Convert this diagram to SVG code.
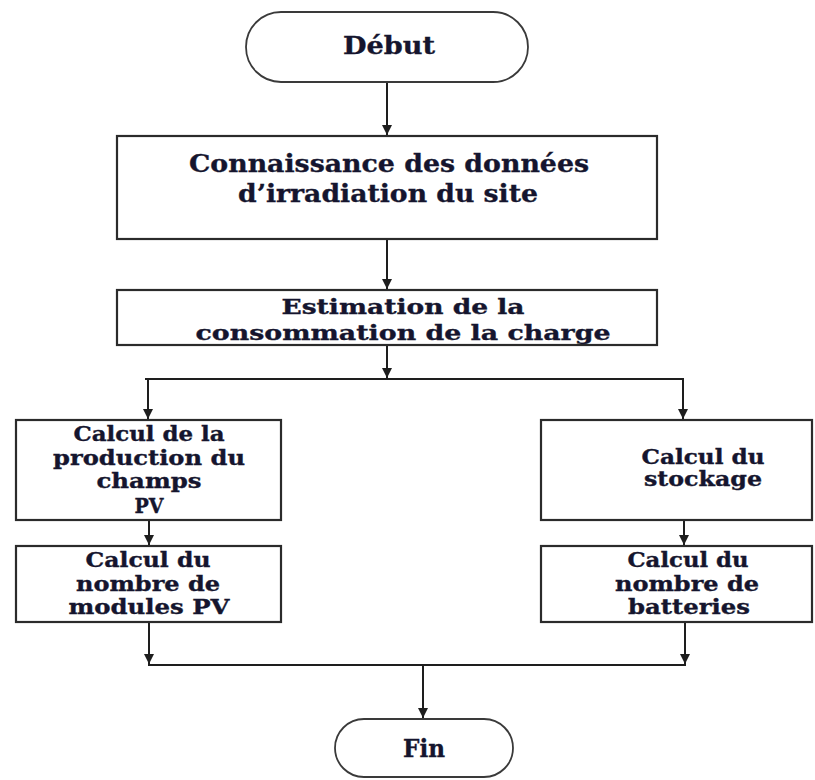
<svg xmlns="http://www.w3.org/2000/svg" width="815" height="780" viewBox="0 0 815 780">
  <style>
    .box { fill: #ffffff; stroke: #2b2b2b; stroke-width: 2.2; }
    .term { fill: #ffffff; stroke: #3a3a3a; stroke-width: 1.8; }
    .lbl { font-family: "DejaVu Serif", "Liberation Serif", serif; font-weight: bold; fill: #15152e; stroke: #15152e; stroke-width: 0.35; text-anchor: middle; }
    .big { font-size: 24px; }
    .tight { font-size: 21px; }
    .mid { font-size: 20px; }
    .wire { fill: none; stroke: #1e1e1e; stroke-width: 2; }
  </style>
  <defs>
    <marker id="arrow" markerUnits="userSpaceOnUse" markerWidth="12" markerHeight="12" refX="10" refY="5" orient="auto">
      <path d="M0,0 L10,5 L0,10 Z" fill="#1e1e1e"/>
    </marker>
  </defs>
  <rect width="815" height="780" fill="#ffffff"/>

  <g id="connectors">
    <line class="wire" x1="387" y1="82" x2="387" y2="135" marker-end="url(#arrow)"/>
    <line class="wire" x1="387" y1="239" x2="387" y2="289" marker-end="url(#arrow)"/>
    <line class="wire" x1="387" y1="345" x2="387" y2="378" marker-end="url(#arrow)"/>
    <line class="wire" x1="145" y1="379" x2="684" y2="379"/>
    <line class="wire" x1="148" y1="379" x2="148" y2="419" marker-end="url(#arrow)"/>
    <line class="wire" x1="683" y1="379" x2="683" y2="419" marker-end="url(#arrow)"/>
    <line class="wire" x1="149" y1="520" x2="149" y2="545" marker-end="url(#arrow)"/>
    <line class="wire" x1="684" y1="520" x2="684" y2="545" marker-end="url(#arrow)"/>
    <line class="wire" x1="149" y1="622" x2="149" y2="664" marker-end="url(#arrow)"/>
    <line class="wire" x1="685" y1="622" x2="685" y2="664" marker-end="url(#arrow)"/>
    <line class="wire" x1="148" y1="665" x2="686" y2="665"/>
    <line class="wire" x1="423" y1="665" x2="423" y2="718" marker-end="url(#arrow)"/>
  </g>

  <g id="debut">
    <rect class="term" x="246" y="12" width="282" height="70" rx="35" ry="35"/>
    <text class="lbl big" x="389" y="54" textLength="92" lengthAdjust="spacingAndGlyphs">Début</text>
  </g>

  <g id="irradiation">
    <rect class="box" x="117" y="136" width="540" height="103"/>
    <text class="lbl big" x="389" y="172" textLength="400" lengthAdjust="spacingAndGlyphs">Connaissance des données</text>
    <text class="lbl big" x="388" y="202" textLength="300" lengthAdjust="spacingAndGlyphs">d’irradiation du site</text>
  </g>

  <g id="consommation">
    <rect class="box" x="117" y="290" width="540" height="55"/>
    <text class="lbl tight" x="403" y="314" textLength="243" lengthAdjust="spacingAndGlyphs">Estimation de la</text>
    <text class="lbl tight" x="403" y="340" textLength="415" lengthAdjust="spacingAndGlyphs">consommation de la charge</text>
  </g>

  <g id="production">
    <rect class="box" x="16" y="420" width="265" height="100"/>
    <text class="lbl mid" x="149" y="441" textLength="151" lengthAdjust="spacingAndGlyphs">Calcul de la</text>
    <text class="lbl mid" x="149" y="465" textLength="192" lengthAdjust="spacingAndGlyphs">production du</text>
    <text class="lbl mid" x="149" y="488" textLength="105" lengthAdjust="spacingAndGlyphs">champs</text>
    <text class="lbl mid" x="149" y="513" textLength="29" lengthAdjust="spacingAndGlyphs">PV</text>
  </g>

  <g id="modules">
    <rect class="box" x="16" y="546" width="265" height="76"/>
    <text class="lbl mid" x="148" y="567" textLength="125" lengthAdjust="spacingAndGlyphs">Calcul du</text>
    <text class="lbl mid" x="148" y="591" textLength="144" lengthAdjust="spacingAndGlyphs">nombre de</text>
    <text class="lbl mid" x="149" y="614" textLength="161" lengthAdjust="spacingAndGlyphs">modules PV</text>
  </g>

  <g id="stockage">
    <rect class="box" x="541" y="420" width="271" height="100"/>
    <text class="lbl mid" x="703" y="464" textLength="123" lengthAdjust="spacingAndGlyphs">Calcul du</text>
    <text class="lbl mid" x="703" y="486" textLength="118" lengthAdjust="spacingAndGlyphs">stockage</text>
  </g>

  <g id="batteries">
    <rect class="box" x="541" y="546" width="271" height="76"/>
    <text class="lbl mid" x="688" y="567" textLength="121" lengthAdjust="spacingAndGlyphs">Calcul du</text>
    <text class="lbl mid" x="687" y="591" textLength="144" lengthAdjust="spacingAndGlyphs">nombre de</text>
    <text class="lbl mid" x="689" y="614" textLength="122" lengthAdjust="spacingAndGlyphs">batteries</text>
  </g>

  <g id="fin">
    <rect class="term" x="335" y="719" width="178" height="58" rx="29" ry="29"/>
    <text class="lbl big" x="424" y="757" textLength="42" lengthAdjust="spacingAndGlyphs">Fin</text>
  </g>
</svg>
